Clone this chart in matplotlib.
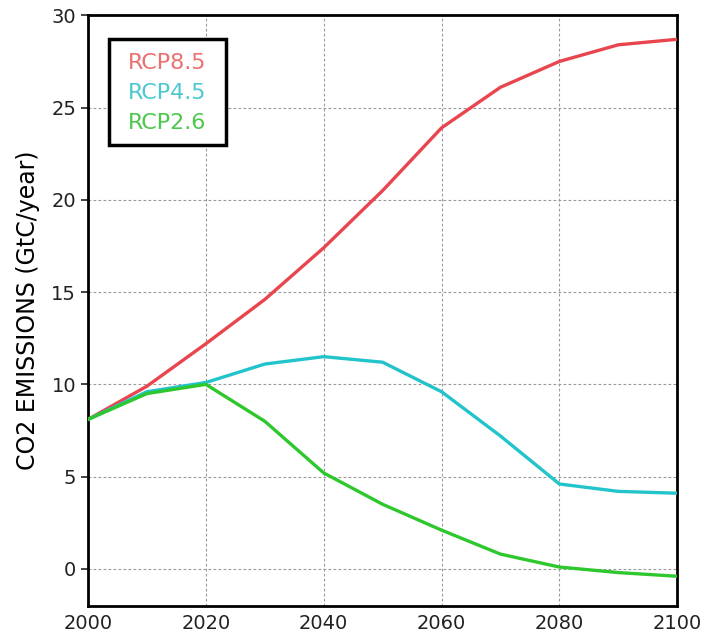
import matplotlib
matplotlib.use("Agg")
import matplotlib.pyplot as plt

years = [2000, 2010, 2020, 2030, 2040, 2050, 2060, 2070, 2080, 2090, 2100]
rcp85 = [8.1, 9.9, 12.2, 14.6, 17.4, 20.5, 23.9, 26.1, 27.5, 28.4, 28.7]
rcp45 = [8.1, 9.6, 10.1, 11.1, 11.5, 11.2, 9.6, 7.2, 4.6, 4.2, 4.1]
rcp26 = [8.1, 9.5, 10.0, 8.0, 5.2, 3.5, 2.1, 0.8, 0.1, -0.2, -0.4]

labels = ["RCP8.5", "RCP4.5", "RCP2.6"]
colors = ["#e8454f", "#22c4cc", "#2ec82e"]
text_colors = ["#ec7070", "#4cc8d0", "#4cc84c"]

fig = plt.figure(figsize=(7.04, 6.37), dpi=100)
ax = fig.add_axes([0.125, 0.049, 0.837, 0.927])

for vals, c in zip([rcp85, rcp45, rcp26], colors):
    ax.plot(years, vals, color=c, lw=2.4, zorder=3)

ax.set_xlim(2000, 2100)
ax.set_ylim(-2, 30)
ax.set_xticks(range(2000, 2101, 20))
ax.set_yticks(range(0, 31, 5))
ax.grid(True, color="#999999", ls=(0, (2.5, 2)), lw=0.8)
ax.tick_params(labelsize=14, length=5, width=1.2, colors="#222222")
ax.tick_params(axis="x", length=0, pad=6)
for s in ax.spines.values():
    s.set_linewidth(2)
ax.set_ylabel("CO2 EMISSIONS (GtC/year)", fontsize=17, labelpad=8)

# legend box drawn by hand: coloured text, no line samples
box = plt.Rectangle((0.035, 0.78), 0.2, 0.18, transform=ax.transAxes,
                    facecolor="white", edgecolor="black", lw=2.5, zorder=4)
ax.add_patch(box)
for i, (lab, c) in enumerate(zip(labels, text_colors)):
    ax.text(0.135, 0.92 - i * 0.051, lab, transform=ax.transAxes, color=c,
            fontsize=16, ha="center", va="center", zorder=5)

fig.savefig("out.png", dpi=100)
